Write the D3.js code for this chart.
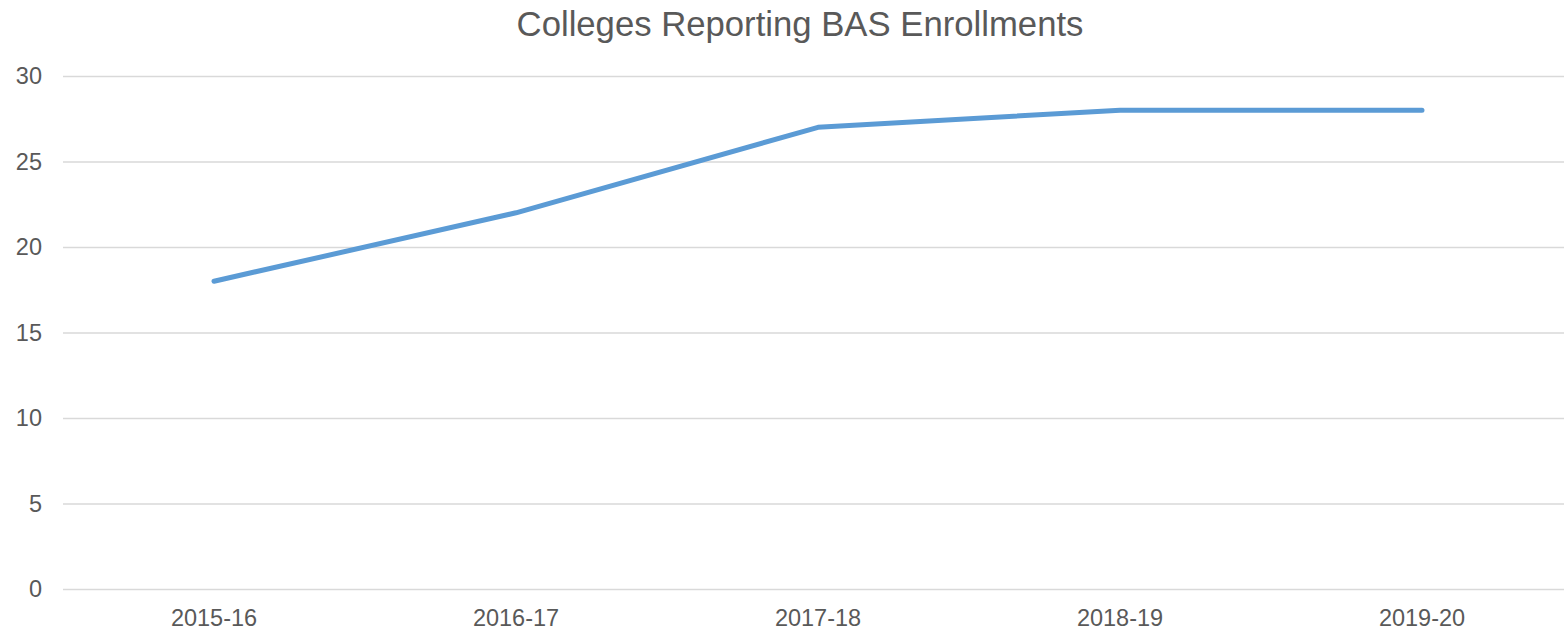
<!DOCTYPE html>
<html><head><meta charset="utf-8">
<script src="https://cdn.jsdelivr.net/npm/d3@7"></script>
<style>body{margin:0;background:#fff}svg{display:block}text{font-family:"Liberation Sans","Roboto",sans-serif;fill:#595959}</style>
</head><body><svg id="c" width="1564" height="630"></svg>
<script>
const categories = ["2015-16","2016-17","2017-18","2018-19","2019-20"];
const values = [18,22,27,28,28];
const yTicks = [0,5,10,15,20,25,30];
const title = "Colleges Reporting BAS Enrollments";

const svg = d3.select("#c");
const m = {left:63, right:1573, top:76, bottom:589};
const x = d3.scaleBand().domain(categories).range([m.left, m.right]);
const y = d3.scaleLinear().domain([0,30]).range([m.bottom, m.top]);

svg.append("text").attr("x",800).attr("y",36).attr("text-anchor","middle")
  .attr("font-size",34.7).text(title);

const yAxis = d3.axisLeft(y).tickValues(yTicks).tickSize(-(1564-m.left)).tickPadding(21);
const ga = svg.append("g").attr("transform",`translate(${m.left},0)`).call(yAxis);
ga.select(".domain").remove();
ga.selectAll(".tick line").attr("stroke","#d9d9d9").attr("stroke-width",1.5);
ga.selectAll(".tick text").attr("font-size",23.5).style("fill","#595959");

const xAxis = d3.axisBottom(x).tickSize(0).tickPadding(20);
const gx = svg.append("g").attr("transform",`translate(0,${m.bottom})`).call(xAxis);
gx.select(".domain").remove();
gx.selectAll(".tick text").attr("font-size",23.5).style("fill","#595959");
svg.selectAll("g").attr("font-family",null).attr("font-size",null);

const line = d3.line().x((d,i)=>x(categories[i])+x.bandwidth()/2).y(d=>y(d));
svg.append("path").datum(values).attr("d",line).attr("fill","none")
  .attr("stroke","#5b9bd5").attr("stroke-width",5).attr("stroke-linecap","round").attr("stroke-linejoin","round");
</script></body></html>
